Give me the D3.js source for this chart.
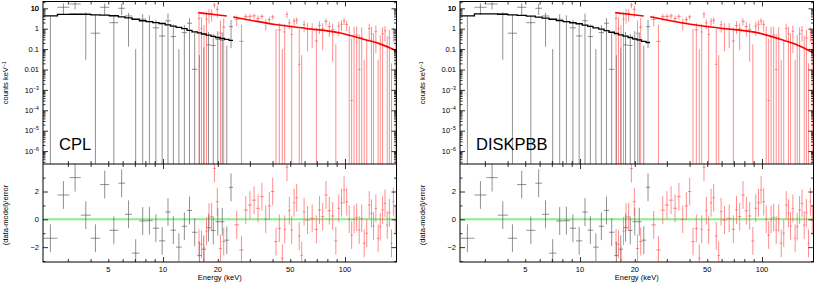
<!DOCTYPE html>
<html lang="en">
<head>
<meta charset="UTF-8">
<title>CPL / DISKPBB spectral fits</title>
<script src="https://cdn.jsdelivr.net/npm/d3@7"></script>
<style>
  body { margin: 0; background: #fff; }
  text { font-family: "Liberation Sans", Arial, sans-serif; fill: #000; }
</style>
</head>
<body>
<script>
// ---- black instrument (low energy), bin edges in keV ----
var blackEdges = [2.2, 2.63, 3.06, 3.53, 4.01, 4.51, 5.07, 5.68, 6.18, 6.76, 7.41, 8.07, 8.78, 9.51,
                  10.29, 11.02, 11.79, 12.67, 13.55, 14.43, 15.44, 16.27, 17.23, 18.36, 19.43, 20.57,
                  21.78, 23.05, 24.25];
// counts/keV (null = point not visible), error bar top / bottom (0 = runs off the plot)
var blackData = [null, 11.2, 16.3, 5.3, 0.6, 11.2, 1.97, 10, 4.2, null, 2.9, 2.2, 1.1, 0.44,
                 2.45, 0.41, null, 0.64, 1.85, 0.0102, null, null, 0.16, 0.15, 0.3, 0.27, null, 1.26];
var blackHi = [4.0, 17.6, 25, 6.5, 4.7, 17.6, 4.4, 16.3, 5.9, 0.1, 5.2, 4.5, 2.7, 2.0,
               5.5, 1.6, 0.1, 1.5, 3.3, 0.65, 0.05, 0.12, 0.7, 0.55, 0.75, 0.65, 0.15, 2.7];
var blackLo = [0, 4.7, 8.9, 0.03, 0, 4.7, 0, 4.7, 0.13, 0, 0, 0, 0, 0,
               0, 0, 0, 0, 0, 0, 0, 0, 0, 0, 0, 0, 0, 0.11];
var blackResid = [-1.36, 1.75, 3.0, 0.3, -1.36, 2.5, -0.79, 2.6, 0.36, -2.43, -0.12, -0.1, -0.64, -1.55,
                  0.52, -0.78, -2.0, -0.5, 0.64, -0.93, -2.6, -2.15, -0.6, -0.8, -0.17, -0.17, -1.5, 2.3];
var blackModelCPL = [4.2, 5.0, 5.1, 5.0, 4.8, 4.6, 4.3, 3.8, 3.4, 2.9, 2.45, 2.2, 2.0, 1.8,
                     1.55, 1.35, 1.15, 1.0, 0.82, 0.7, 0.62, 0.55, 0.48, 0.42, 0.37, 0.33, 0.3, 0.27];
var blackModelPBB = [4.2, 5.3, 5.3, 5.1, 4.8, 4.5, 4.1, 3.7, 3.3, 2.9, 2.5, 2.2, 1.95, 1.75,
                     1.5, 1.3, 1.1, 0.95, 0.8, 0.67, 0.58, 0.5, 0.43, 0.37, 0.32, 0.28, 0.24, 0.21];

// ---- red instrument, channel centres in keV (two groups, gap near 23 keV) ----
var redE1 = [15.77, 16.27, 16.8, 17.34, 17.89, 18.48, 19.14, 19.88, 20.67, 21.55];
var redData1 = [3.2, 1.0, null, 3.0, 5.6, 5.6, 14.5, 8.9, 0.6, 1.2];
var redHi1 = [5.6, 3.6, 1.5, 6.5, 9.5, 9.0, 19, 13, 2.5, 3.2];
var redLo1 = [0, 0, 0, 0, 1.8, 2.2, 10, 3.5, 0, 0];
var redResid1 = [-1.7, -1.8, -2.9, -0.84, 0.15, 0.19, 3.66, 1.27, -2.1, -1.6];

var redE2 = [25.41, 27.07, 28.48, 30.06, 31.62, 33.39, 34.85, 36.81, 38.37, 40.06,
             41.78, 43.56, 45.48, 46.53, 48.03, 49.43, 50.95, 52.46, 54.28, 56.1,
             57.83, 59.53, 61.6, 66.46, 69.91, 72.25, 75.42, 78.63, 81.98, 85.59,
             89.23, 92.34, 95.91, 98.74, 102.2, 105.6, 108.8, 112.1, 115.9, 119.8,
             123.5, 127.6, 131.6, 136.0, 140.2, 143.0, 148.0, 152.4, 155.7, 161.1,
             165.9, 170.8, 175.2, 180.6, 184.3, 189.0];
var redData2 = [2.86, 0.24, 3.87, 4.03, 4.23, 3.21, 4.02, 1.92, 2.84, 3.76,
                null, 0.86, null, 0.69, 5.0, 1.91, 0.52, 2.35, 2.62, 0.018,
                null, 1.56, 0.98, 0.99, 0.25, 1.43, 0.97, 2.29, 1.27, 0.9,
                null, 1.34, 1.64, 2.4, 1.61, 0.47, 0.0003, 0.41, 0.49, 0.01,
                0.38, null, null, 1.02, 0.55, null, 0.74, null, null, 0.56,
                0.8, null, 0.35, null, 0.67, 0.064];
var redHi2 = [4.43, 1.56, 5.33, 5.36, 5.5, 4.43, 5.19, 3.03, 3.92, 4.8,
              0.97, 1.86, 0.1, 1.67, 6.8, 2.88, 1.48, 3.3, 3.56, 0.94,
              0.05, 2.47, 1.87, 1.88, 1.13, 2.31, 1.85, 3.16, 2.15, 1.78,
              0.17, 2.23, 2.53, 3.28, 2.48, 1.32, 0.33, 1.23, 1.29, 0.53,
              1.17, 0.03, 0.28, 1.76, 1.26, 0.59, 1.42, 0.03, 0.49, 1.17,
              1.36, 0.44, 0.86, 0.02, 1.13, 0.49];
var redLo2 = [1.29, 0, 2.42, 2.7, 2.95, 2.0, 2.84, 0.81, 1.76, 2.72,
              0, 0, 0, 0, 3.3, 0.94, 0, 1.4, 1.68, 0,
              0, 0.65, 0.078, 0.11, 0, 0.55, 0.087, 1.41, 0.4, 0.024,
              0, 0.44, 0.76, 1.52, 0.74, 0, 0, 0, 0, 0,
              0, 0, 0, 0.28, 0, 0, 0.063, 0, 0, 0,
              0.23, 0, 0, 0, 0.22, 0];
var redResid2 = [-0.4, -2.2, 0.66, 1.03, 1.38, 0.79, 1.63, 0.0, 0.96, 2.0,
                 -1.6, -0.65, -2.8, -0.72, 3.74, 0.62, -0.77, 1.19, 1.55, -1.2,
                 -2.6, 0.55, -0.05, 0.07, -0.72, 0.67, 0.19, 1.75, 0.62, 0.24,
                 -1.55, 0.79, 1.19, 2.1, 1.27, 0.0, -1.13, 0.0, 0.14, -0.77,
                 0.07, -1.72, -1.0, 1.03, 0.43, -0.48, 0.79, -1.37, -0.53, 0.67,
                 1.15, -0.41, 0.47, -1.73, 1.27, -0.05];

// red model curves
var redModelE1 = [15.6, 18.5, 22.4];
var redModelCPL1 = [6.1, 5.1, 4.2];
var redModelPBB1 = [6.1, 5.1, 4.2];
var redModelE2 = [24.3, 41.3, 61, 94, 131, 156, 191.9];
var redModelCPL2 = [3.75, 1.6, 1.03, 0.62, 0.28, 0.18, 0.082];
var redModelPBB2 = [3.85, 1.6, 1.03, 0.64, 0.27, 0.16, 0.065];

var modelNames = ["CPL", "DISKPBB"];

// ---- layout ----
var W = 814, H = 282;
var X0 = 43, X1 = 396.5, TOP = 1.5, MID = 164, BOT = 262;
var PANEL_SHIFT = 417;

var x = d3.scaleLog().domain([2.19, 191.9]).range([X0, X1]);
var yS = d3.scaleLog().domain([2.33e-7, 21.5]).range([MID, TOP]);
var yR = d3.scaleLinear().domain([-3.07, 3.98]).range([BOT, MID]);

function binsFromEdges(edges, d, hi, lo, r) {
    return d.map(function(v, i) {
        return {lo: edges[i], hi: edges[i + 1], d: v, eh: hi[i], el: lo[i], r: r[i]};
    });
}
function binsFromCentres(c, d, hi, lo, r) {
    var n = c.length;
    return c.map(function(e, i) {
        var a = i > 0 ? Math.sqrt(c[i - 1] * e) : e * Math.sqrt(e / c[1]);
        var b = i < n - 1 ? Math.sqrt(e * c[i + 1]) : e * Math.sqrt(e / c[n - 2]);
        return {lo: a, hi: b, d: d[i], eh: hi[i], el: lo[i], r: r[i]};
    });
}

var blackBins = binsFromEdges(blackEdges, blackData, blackHi, blackLo, blackResid);
var redBins = binsFromCentres(redE1, redData1, redHi1, redLo1, redResid1)
    .concat(binsFromCentres(redE2, redData2, redHi2, redLo2, redResid2));

var panels = [
    {name: modelNames[0], black: blackModelCPL, red1: redModelCPL1, red2: redModelCPL2},
    {name: modelNames[1], black: blackModelPBB, red1: redModelPBB1, red2: redModelPBB2}
];

var svg = d3.select("body").append("svg")
    .attr("width", W).attr("height", H)
    .style("display", "block");

var defs = svg.append("defs");
defs.append("clipPath").attr("id", "clipTop")
    .append("rect").attr("x", X0).attr("y", TOP).attr("width", X1 - X0).attr("height", MID - TOP);
defs.append("clipPath").attr("id", "clipRes")
    .append("rect").attr("x", X0).attr("y", MID).attr("width", X1 - X0).attr("height", BOT - MID);

var lineW = 0.65;
var BLACK_DATA = "#555", RED_DATA = "#ff5050";

function drawSpectrum(g, bins, colour) {
    g.selectAll(null).data(bins).enter().append("line")
        .attr("x1", function(b) { return x(Math.sqrt(b.lo * b.hi)); })
        .attr("x2", function(b) { return x(Math.sqrt(b.lo * b.hi)); })
        .attr("y1", function(b) { return yS(b.eh); })
        .attr("y2", function(b) { return b.el > 0 ? yS(b.el) : MID + 2; })
        .attr("stroke", colour).attr("stroke-width", lineW);
    g.selectAll(null).data(bins.filter(function(b) { return b.d != null; })).enter().append("line")
        .attr("x1", function(b) { return x(b.lo); })
        .attr("x2", function(b) { return x(b.hi); })
        .attr("y1", function(b) { return yS(b.d); })
        .attr("y2", function(b) { return yS(b.d); })
        .attr("stroke", colour).attr("stroke-width", lineW);
}

function drawResid(g, bins, colour) {
    g.selectAll(null).data(bins).enter().append("line")
        .attr("x1", function(b) { return x(Math.sqrt(b.lo * b.hi)); })
        .attr("x2", function(b) { return x(Math.sqrt(b.lo * b.hi)); })
        .attr("y1", function(b) { return yR(b.r + 1); })
        .attr("y2", function(b) { return yR(b.r - 1); })
        .attr("stroke", colour).attr("stroke-width", lineW);
    g.selectAll(null).data(bins).enter().append("line")
        .attr("x1", function(b) { return x(b.lo); })
        .attr("x2", function(b) { return x(b.hi); })
        .attr("y1", function(b) { return yR(b.r); })
        .attr("y2", function(b) { return yR(b.r); })
        .attr("stroke", colour).attr("stroke-width", lineW);
}

// minor / major tick values
var xMinor = [3, 4, 5, 6, 7, 8, 9, 20, 30, 40, 50, 60, 70, 80, 90];
var xMajor = [10, 100];
var xLabels = [5, 10, 20, 50, 100];
var yMajor = [], yMinor = [];
for (var e = -7; e <= 1; e++) {
    if (e >= -6) yMajor.push(Math.pow(10, e));
    for (var k = 2; k <= 9; k++) {
        var v = k * Math.pow(10, e);
        if (v > 2.33e-7 && v < 21.5) yMinor.push(v);
    }
}
var yLabelPlain = {"1": "10", "0": "1", "-1": "0.1", "-2": "0.01"};
var rMajor = [-2, 0, 2], rMinor = [-3, -1, 1, 3];

function tickAxis(g, axis, tr) {
    var a = g.append("g").attr("transform", tr).call(axis);
    a.select(".domain").remove();
    a.selectAll("line").attr("stroke", "#000").attr("stroke-width", 0.8);
    return a;
}

panels.forEach(function(p, pi) {
    var g = svg.append("g").attr("transform", "translate(" + (pi * PANEL_SHIFT) + ",0)");

    // --- upper: spectrum ---
    var top = g.append("g").attr("clip-path", "url(#clipTop)");
    drawSpectrum(top, blackBins, BLACK_DATA);
    drawSpectrum(top, redBins, RED_DATA);

    var stepPts = blackBins.map(function(b, i) { return [b.lo, p.black[i]]; });
    stepPts.push([blackBins[blackBins.length - 1].hi, p.black[p.black.length - 1]]);
    top.append("path")
        .attr("d", d3.line().curve(d3.curveStepAfter)
            .x(function(d) { return x(d[0]); }).y(function(d) { return yS(d[1]); })(stepPts))
        .attr("fill", "none").attr("stroke", "#000").attr("stroke-width", 1.3);

    var redLine = d3.line().curve(d3.curveMonotoneX)
        .x(function(d) { return x(d[0]); }).y(function(d) { return yS(d[1]); });
    [[redModelE1, p.red1], [redModelE2, p.red2]].forEach(function(seg) {
        top.append("path")
            .attr("d", redLine(seg[0].map(function(e, i) { return [e, seg[1][i]]; })))
            .attr("fill", "none").attr("stroke", "#ff0000").attr("stroke-width", 1.6);
    });

    // --- lower: residuals ---
    var res = g.append("g").attr("clip-path", "url(#clipRes)");
    res.append("line")
        .attr("x1", X0).attr("x2", X1).attr("y1", yR(0)).attr("y2", yR(0))
        .attr("stroke", "#88ee88").attr("stroke-width", 2);
    drawResid(res, blackBins, BLACK_DATA);
    drawResid(res, redBins, RED_DATA);

    // --- ticks ---
    [TOP, MID].forEach(function(yy) {
        tickAxis(g, d3.axisBottom(x).tickValues(xMinor).tickSize(yy === TOP ? 3 : -3).tickFormat(""),
            "translate(0," + yy + ")");
        tickAxis(g, d3.axisBottom(x).tickValues(xMajor).tickSize(yy === TOP ? 5 : -5).tickFormat(""),
            "translate(0," + yy + ")");
    });
    [MID, BOT].forEach(function(yy) {
        tickAxis(g, d3.axisTop(x).tickValues(xMinor).tickSize(yy === MID ? -3 : 3).tickFormat(""),
            "translate(0," + yy + ")");
        tickAxis(g, d3.axisTop(x).tickValues(xMajor).tickSize(yy === MID ? -5 : 5).tickFormat(""),
            "translate(0," + yy + ")");
    });
    tickAxis(g, d3.axisLeft(yS).tickValues(yMinor).tickSize(-2.5).tickFormat(""), "translate(" + X0 + ",0)");
    tickAxis(g, d3.axisLeft(yS).tickValues(yMajor).tickSize(-5).tickFormat(""), "translate(" + X0 + ",0)");
    tickAxis(g, d3.axisRight(yS).tickValues(yMinor).tickSize(-2.5).tickFormat(""), "translate(" + X1 + ",0)");
    tickAxis(g, d3.axisRight(yS).tickValues(yMajor).tickSize(-5).tickFormat(""), "translate(" + X1 + ",0)");
    tickAxis(g, d3.axisLeft(yR).tickValues(rMinor).tickSize(-2.5).tickFormat(""), "translate(" + X0 + ",0)");
    tickAxis(g, d3.axisLeft(yR).tickValues(rMajor).tickSize(-5).tickFormat(""), "translate(" + X0 + ",0)");
    tickAxis(g, d3.axisRight(yR).tickValues(rMinor).tickSize(-2.5).tickFormat(""), "translate(" + X1 + ",0)");
    tickAxis(g, d3.axisRight(yR).tickValues(rMajor).tickSize(-5).tickFormat(""), "translate(" + X1 + ",0)");

    // frames
    g.append("rect").attr("x", X0).attr("y", TOP).attr("width", X1 - X0).attr("height", BOT - TOP)
        .attr("fill", "none").attr("stroke", "#000").attr("stroke-width", 1);
    g.append("line").attr("x1", X0).attr("x2", X1).attr("y1", MID).attr("y2", MID)
        .attr("stroke", "#000").attr("stroke-width", 1);

    // --- tick labels ---
    var fs = 7.5;
    g.selectAll(null).data(yMajor.concat([10])).enter().append("text")
        .attr("x", X0 - 4).attr("y", function(d) { return yS(d) + 2.7; })
        .attr("text-anchor", "end").attr("font-size", fs)
        .each(function(d) {
            var t = d3.select(this), ex = Math.round(Math.log10(d));
            var plain = yLabelPlain[String(ex)];
            if (plain) {
                t.text(plain);
            } else {
                t.append("tspan").text("10");
                t.append("tspan").attr("dy", -3).attr("font-size", 5.2).text("\u2212" + Math.abs(ex));
            }
        });
    g.selectAll(null).data(rMajor).enter().append("text")
        .attr("x", X0 - 4).attr("y", function(d) { return yR(d) + 2.7; })
        .attr("text-anchor", "end").attr("font-size", fs)
        .text(function(d) { return d < 0 ? "\u2212" + Math.abs(d) : d; });
    g.selectAll(null).data(xLabels).enter().append("text")
        .attr("x", function(d) { return x(d); }).attr("y", BOT + 9.5)
        .attr("text-anchor", "middle").attr("font-size", fs)
        .text(function(d) { return d; });

    // --- titles ---
    g.append("text").attr("x", (X0 + X1) / 2).attr("y", 280)
        .attr("text-anchor", "middle").attr("font-size", 7.5).text("Energy (keV)");
    var yl = g.append("text")
        .attr("transform", "translate(8," + ((TOP + MID) / 2) + ") rotate(-90)")
        .attr("text-anchor", "middle").attr("font-size", 7.5);
    yl.append("tspan").text("counts keV");
    yl.append("tspan").attr("dy", -2.5).attr("font-size", 5.2).text("\u22121");
    g.append("text")
        .attr("transform", "translate(8," + ((MID + BOT) / 2 + 2) + ") rotate(-90)")
        .attr("text-anchor", "middle").attr("font-size", 7.5).text("(data-model)/error");

    g.append("text").attr("x", X0 + 16).attr("y", 150)
        .attr("font-size", 16.5).text(p.name);
});
</script>
</body>
</html>
